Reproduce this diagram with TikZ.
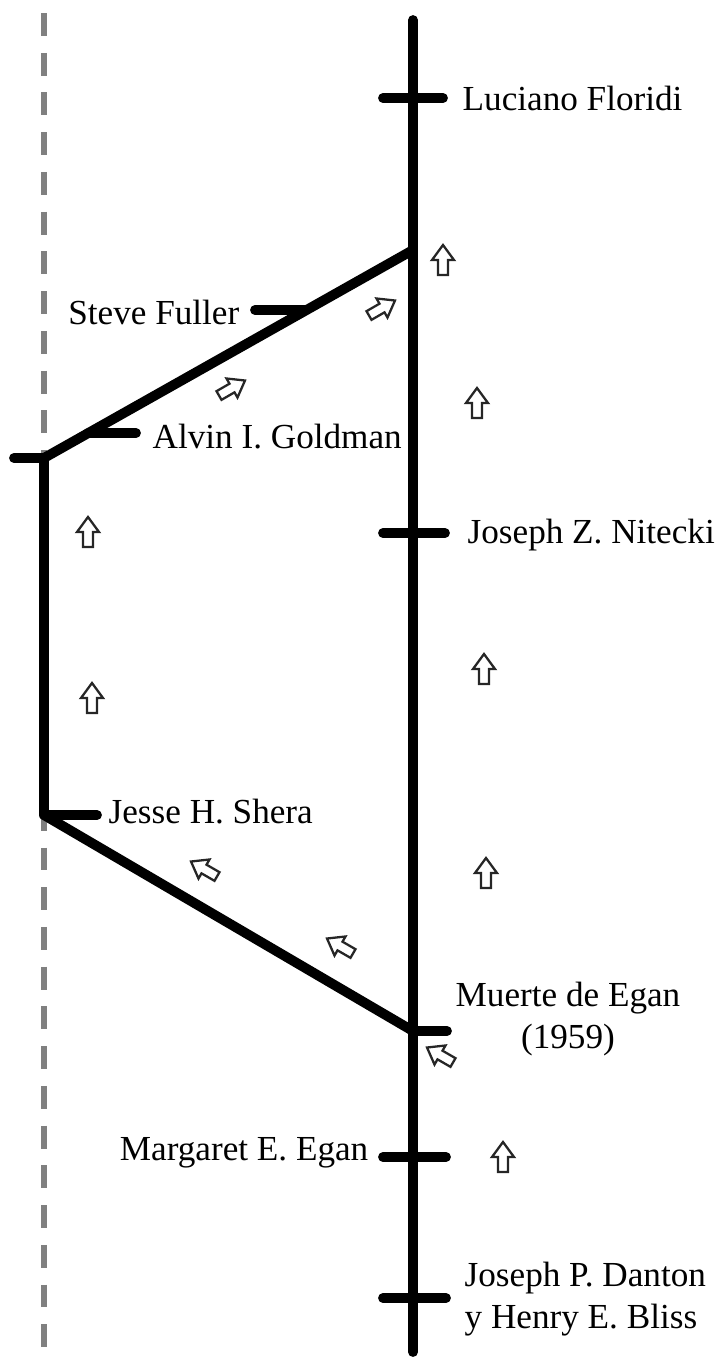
\documentclass[tikz,border=0pt]{standalone}
\usepackage{fontspec}
\setmainfont{Liberation Serif}
\tikzset{
  trait/.style={line width=2.8pt, line cap=round, line join=round},
  nom/.style={font=\fontsize{10}{12}\selectfont, inner sep=0pt},
  fleche/.pic={\draw[line width=0.65pt, black!85] (0,-15) -- (11,0) -- (5,0) -- (5,15) -- (-5,15) -- (-5,0) -- (-11,0) -- cycle;}
}
\begin{document}
\begin{tikzpicture}[x=0.01cm,y=-0.01cm]
\useasboundingbox (0,0) rectangle (717,1362);

%la ligne en pointillés
\coordinate (P1) at (44,13);
\coordinate (P2) at (44,1362);
\draw[gray, line width=1.7pt, dash pattern=on 6.5pt off 4.8pt] (P1) -- (P2);

%l'axe principal et la branche
\coordinate (H) at (413,20);% haut de l'axe
\coordinate (B) at (413,1352);% bas de l'axe
\coordinate (S) at (413,250);% retour sur l'axe
\coordinate (M) at (413,1031);% départ de la branche
\coordinate (G1) at (44,458);% haut de la branche
\coordinate (G2) at (44,815);% bas de la branche

\draw[trait] (H) -- (B);
\draw[trait] (M) -- (G2) -- (G1) -- (S);

%les marques
\draw[trait] (383,98) -- (443,98);% Floridi
\draw[trait] (255,310) -- (306,310);% Fuller
\draw[trait] (88,433) -- (136,433);% Goldman
\draw[trait] (14,458) -- (G1);
\draw[trait] (383,533) -- (445,533);% Nitecki
\draw[trait] (G2) -- (97,815);% Shera
\draw[trait] (M) -- (447,1031);% Muerte de Egan
\draw[trait] (383,1157) -- (446,1157);% Egan
\draw[trait] (383,1298) -- (446,1298);% Danton

%les noms
\node[nom, anchor=west] (floridi) at (462,98) {Luciano Floridi};
\node[nom, anchor=east] (fuller) at (240,312) {Steve Fuller};
\node[nom, anchor=west] (goldman) at (152,437) {Alvin I. Goldman};
\node[nom, anchor=west] (nitecki) at (467,535) {Joseph Z. Nitecki};
\node[nom, anchor=west] (shera) at (108,812) {Jesse H. Shera};
\node[nom, align=center] (muerte) at (568,1019) {Muerte de Egan\\(1959)};
\node[nom, anchor=east] (egan) at (369,1153) {Margaret E. Egan};
\node[nom, anchor=west, align=left] (danton) at (464,1299) {Joseph P. Danton\\y Henry E. Bliss};

%les petites flèches
\pic at (443,260) {fleche};
\pic[rotate=-60] at (382,308) {fleche};
\pic[rotate=-60] at (232,388) {fleche};
\pic at (477,403) {fleche};
\pic at (88,532) {fleche};
\pic at (484,669) {fleche};
\pic at (92,698) {fleche};
\pic[rotate=60] at (204,869) {fleche};
\pic at (486,873) {fleche};
\pic[rotate=60] at (340,946) {fleche};
\pic[rotate=60] at (440,1055) {fleche};
\pic at (503,1157) {fleche};

\end{tikzpicture}
\end{document}
